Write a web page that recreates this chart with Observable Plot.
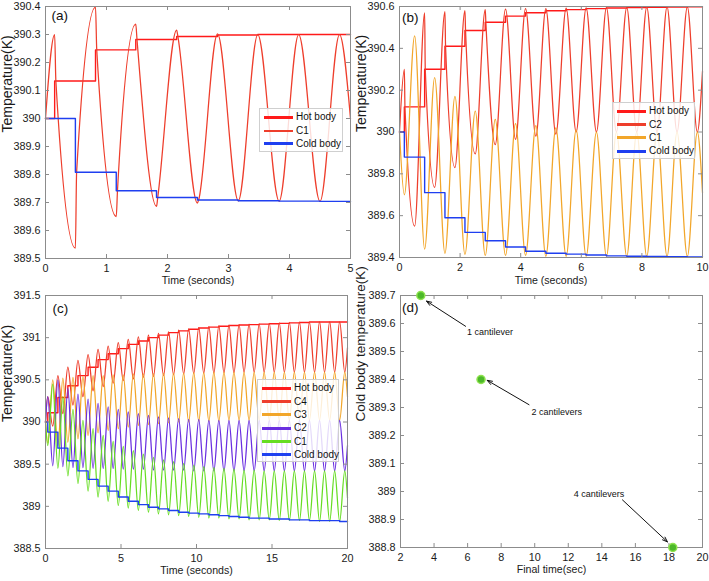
<!DOCTYPE html>
<html><head><meta charset="utf-8">
<script src="https://cdn.jsdelivr.net/npm/d3@7"></script>
<script src="https://cdn.jsdelivr.net/npm/@observablehq/plot@0.6"></script>
<style>
body{margin:0;background:#fff;}
#root{position:relative;width:709px;height:581px;overflow:hidden;font-family:'Liberation Sans',Arial,sans-serif;background:#fff;}
.panel{position:absolute;}
.panel svg{overflow:visible;}
.legend{position:absolute;border:1px solid #cfcfcf;background:rgba(255,255,255,0.82);box-sizing:border-box;}
.legend .sw{position:absolute;}
.legend .lb{position:absolute;font-size:10px;line-height:12px;color:#111;white-space:nowrap;}
</style></head><body><div id="root"></div>
<script>
const FONT = "'Liberation Sans', Arial, Helvetica, sans-serif";
const HOT = "#ff1a1a", COLD = "#1f3ff0", CRED = "#ee3e2c", CORANGE = "#f2a62a", CPURPLE = "#6a2fe0", CGREEN = "#66dd22";

// ---------- Panel (a) ----------
const aXTicks = [0, 1, 2, 3, 4, 5];
const aYTicks = [389.5, 389.6, 389.7, 389.8, 389.9, 390, 390.1, 390.2, 390.3, 390.4];
const aHotT = [0, 0.15, 0.82, 1.48, 2.15, 2.82, 3.48, 4.15, 4.82, 5];
const aHotV = [390, 390.134, 390.245, 390.282, 390.293, 390.298, 390.3, 390.3, 390.3, 390.3];
const aColdT = [0, 0.49, 1.16, 1.82, 2.49, 3.16, 3.83, 4.5, 5];
const aColdV = [390, 389.808, 389.742, 389.718, 389.709, 389.706, 389.705, 389.704, 389.704];
const aC1T = [0, 0.15, 0.17, 0.49, 0.51, 0.82, 0.84, 1.16, 1.18, 1.48, 1.5, 1.82, 1.84, 2.15, 2.17, 2.49, 2.51, 2.82, 3.16, 3.48, 3.83, 4.15, 4.5, 4.82, 5];
const aC1V = [390, 390.3, 390.134, 389.537, 389.808, 390.398, 390.245, 389.65, 389.742, 390.337, 390.282, 389.686, 389.718, 390.316, 390.293, 389.698, 389.709, 390.302, 389.706, 390.3, 389.705, 390.3, 389.704, 390.3, 390.0];

// ---------- Panel (b) ----------
const bXTicks = [0, 2, 4, 6, 8, 10];
const bYTicks = [389.4, 389.6, 389.8, 390, 390.2, 390.4, 390.6];
const bStepT = [0, 0.16, 0.83, 1.5, 2.16, 2.83, 3.5, 4.16, 4.83, 5.5, 6.16, 6.83, 7.5, 8.16, 8.83, 9.5, 10];
const bHotV = [390, 390.12, 390.30, 390.41, 390.485, 390.525, 390.554, 390.57, 390.58, 390.585, 390.59, 390.593, 390.595, 390.596, 390.597, 390.598, 390.598];
const bColdV = [390, 389.88, 389.71, 389.59, 389.52, 389.48, 389.45, 389.43, 389.42, 389.416, 389.412, 389.408, 389.406, 389.405, 389.404, 389.403, 389.403];
const bC2T = [0, 0.16, 0.18, 0.5, 0.83, 0.85, 1.16, 1.5, 1.52, 1.83, 2.16, 2.18, 2.5, 2.83, 2.85, 3.16, 3.5, 3.83, 4.16, 4.5, 4.83, 5.16, 5.5, 5.83, 6.16, 6.5, 6.83, 7.16, 7.5, 7.83, 8.16, 8.5, 8.83, 9.16, 9.5, 9.83, 10];
const bC2V = [390, 390.30, 390.12, 389.55, 390.57, 390.30, 389.735, 390.575, 390.41, 389.83, 390.58, 390.485, 389.895, 390.585, 390.525, 389.94, 390.588, 389.965, 390.59, 389.98, 390.59, 389.99, 390.592, 390.0, 390.594, 390.0, 390.595, 390.0, 390.596, 390.0, 390.597, 390.0, 390.598, 390.0, 390.598, 390.0, 390.29];
const bC1T = [0, 0.16, 0.5, 0.83, 1.16, 1.5, 1.83, 2.16, 2.5, 2.83, 3.16, 3.5, 3.83, 4.16, 4.5, 4.83, 5.16, 5.5, 5.83, 6.16, 6.5, 6.83, 7.16, 7.5, 7.83, 8.16, 8.5, 8.83, 9.16, 9.5, 9.83, 10];
const bC1V = [390, 389.70, 390.46, 389.44, 390.26, 389.42, 390.17, 389.415, 390.10, 389.41, 390.06, 389.41, 390.04, 389.41, 390.03, 389.405, 390.02, 389.405, 390.01, 389.405, 390.0, 389.405, 390.0, 389.405, 390.0, 389.405, 390.0, 389.405, 390.0, 389.405, 390.0, 389.71];

// ---------- Panel (c) ----------
const cXTicks = [0, 5, 10, 15, 20];
const cYTicks = [388.5, 389, 389.5, 390, 390.5, 391, 391.5];
const cExtT = [0.15, 0.48, 0.82, 1.15, 1.48, 1.82, 2.15, 2.48, 2.82, 3.15, 3.48, 3.82, 4.15, 4.48, 4.82, 5.15, 5.48, 5.82, 6.15, 6.48, 6.82, 7.15, 7.48, 7.82, 8.15, 8.48, 8.82, 9.15, 9.48, 9.82, 10.15, 10.48, 10.82, 11.15, 11.48, 11.82, 12.15, 12.48, 12.82, 13.15, 13.48, 13.82, 14.15, 14.48, 14.82, 15.15, 15.48, 15.82, 16.15, 16.48, 16.82, 17.15, 17.48, 17.82, 18.15, 18.48, 18.82, 19.15, 19.48, 19.82];
const cHotV = [390, 390.11, 390.29, 390.43, 390.55, 390.65, 390.74, 390.81, 390.87, 390.92, 390.96, 391.0, 391.03, 391.06, 391.08, 391.1, 391.115, 391.125, 391.135, 391.145, 391.15, 391.155, 391.16, 391.165, 391.17, 391.175, 391.18, 391.185, 391.185, 391.185, 391.185, 391.185];
const cColdV = [390, 389.88, 389.69, 389.54, 389.42, 389.32, 389.24, 389.18, 389.11, 389.06, 389.02, 388.99, 388.97, 388.95, 388.93, 388.92, 388.91, 388.9, 388.89, 388.88, 388.87, 388.86, 388.86, 388.85, 388.85, 388.84, 388.84, 388.83, 388.83, 388.83, 388.82, 388.82];
// values at the step times (even extrema) and at the half-period times (odd extrema)
const c4AtStep = [390.3, 390.55, 390.65, 390.73, 390.8, 390.86, 390.9, 390.94, 390.98, 391.01, 391.03, 391.05, 391.07, 391.09, 391.1, 391.12, 391.13, 391.14, 391.15, 391.155, 391.16, 391.165, 391.17, 391.175, 391.18, 391.185, 391.185, 391.19, 391.19, 391.19];
const c4AtMid = [389.95, 390.1, 390.2, 390.3, 390.37, 390.42, 390.46, 390.49, 390.51, 390.53, 390.54, 390.55, 390.56, 390.57, 390.575, 390.58, 390.58, 390.585, 390.585, 390.59, 390.59, 390.59, 390.59, 390.59, 390.59, 390.59, 390.59, 390.59, 390.59, 390.59];
const c3AtStep = [389.75, 389.72, 389.76, 389.8, 389.84, 389.87, 389.9, 389.92, 389.94, 389.96, 389.97, 389.98, 389.99, 390.0, 390.0, 390.01, 390.01, 390.01, 390.02, 390.02, 390.02, 390.02, 390.02, 390.02, 390.02, 390.02, 390.02, 390.02, 390.02, 390.02];
const c3AtMid = [390.5, 390.52, 390.53, 390.54, 390.55, 390.55, 390.56, 390.56, 390.57, 390.57, 390.575, 390.58, 390.58, 390.58, 390.585, 390.585, 390.59, 390.59, 390.59, 390.59, 390.59, 390.59, 390.59, 390.59, 390.59, 390.59, 390.59, 390.59, 390.59, 390.59];
const c2AtStep = [390.3, 390.5, 390.4, 390.33, 390.27, 390.22, 390.18, 390.15, 390.12, 390.1, 390.08, 390.06, 390.05, 390.04, 390.03, 390.03, 390.02, 390.02, 390.02, 390.02, 390.02, 390.02, 390.02, 390.02, 390.02, 390.02, 390.02, 390.02, 390.02, 390.02];
const c2AtMid = [389.48, 389.47, 389.46, 389.46, 389.45, 389.45, 389.45, 389.44, 389.44, 389.44, 389.43, 389.43, 389.43, 389.43, 389.42, 389.42, 389.42, 389.42, 389.42, 389.42, 389.42, 389.42, 389.42, 389.42, 389.42, 389.42, 389.42, 389.42, 389.42, 389.42];
const c1AtStep = [389.72, 389.45, 389.36, 389.27, 389.18, 389.11, 389.06, 389.01, 388.98, 388.95, 388.93, 388.91, 388.9, 388.89, 388.88, 388.87, 388.86, 388.86, 388.85, 388.85, 388.84, 388.84, 388.84, 388.83, 388.83, 388.83, 388.83, 388.82, 388.82, 388.82];
const c1AtMid = [390.45, 390.3, 390.15, 390.02, 389.92, 389.84, 389.77, 389.71, 389.66, 389.62, 389.58, 389.55, 389.53, 389.51, 389.49, 389.47, 389.46, 389.45, 389.44, 389.43, 389.43, 389.42, 389.42, 389.42, 389.42, 389.42, 389.42, 389.42, 389.42, 389.42];
const cStart = {C4: 390.0, C3: 390.0, C2: 390.0, C1: 390.0};
const cEnd = {C4: 390.88, C3: 390.3, C2: 389.72, C1: 389.1};

// ---------- Panel (d) ----------
const dXTicks = [2, 4, 6, 8, 10, 12, 14, 16, 18, 20];
const dYTicks = [388.8, 388.9, 389, 389.1, 389.2, 389.3, 389.4, 389.5, 389.6, 389.7];
const dFinalTime = [3.21, 6.8, 18.23];
const dColdTemp = [389.7, 389.4, 388.8];
const dLabels = ["1 cantilever", "2 cantilevers", "4 cantilevers"];
const dLabelX = [7.33, 11.31, 13.83];
const dLabelY = [389.57, 389.284, 388.99];
const dArrowX1 = [5.88, 9.66, 15.23], dArrowY1 = [389.59, 389.31, 388.97];
const dArrowX2 = [3.55, 7.17, 17.91], dArrowY2 = [389.68, 389.397, 388.82];

// ---------- helpers ----------
const pts = (T, V) => T.map((t, i) => ({t, v: V[i]}));
const fmt1 = d3.format(".1~f");
function oscSeries(start, atStep, atMid, end) {
  const out = [{t: 0, v: start}];
  atStep.forEach((v, i) => { out.push({t: cExtT[2 * i], v}); out.push({t: cExtT[2 * i + 1], v: atMid[i]}); });
  out.push({t: 20, v: end});
  return out;
}
const cStepT = [0, ...cExtT.filter((_, i) => i % 2 === 0), 20];

const root = document.getElementById("root");

function panel(o) {
  const fw = o.width - o.ml - o.mr, fh = o.height - o.mt - o.mb;
  const axisC = "#8c8c8c", tl = 4;
  const svg = Plot.plot({
    width: o.width, height: o.height,
    marginTop: o.mt, marginRight: o.mr, marginBottom: o.mb, marginLeft: o.ml,
    x: {domain: o.xDomain, ticks: o.xTicks, tickFormat: o.xFmt, tickSize: 0, tickPadding: 5.5, label: null},
    y: {domain: o.yDomain, ticks: o.yTicks, tickFormat: o.yFmt, tickSize: 0, tickPadding: 5, label: null},
    style: {fontFamily: FONT, fontSize: "10.8px", color: "#1a1a1a", background: "transparent", overflow: "visible"},
    marks: [
      ...o.marks,
      Plot.frame({stroke: axisC}),
      Plot.ruleX(o.xTicks, {stroke: axisC, insetTop: fh - tl}),
      Plot.ruleX(o.xTicks, {stroke: axisC, insetBottom: fh - tl}),
      Plot.ruleY(o.yTicks, {stroke: axisC, insetRight: fw - tl}),
      Plot.ruleY(o.yTicks, {stroke: axisC, insetLeft: fw - tl}),
      ...(o.over || []),
      Plot.text([o.xLabel], {text: d => d, frameAnchor: "bottom", dy: o.xLabelDy, fontSize: 10.6, fill: "#1a1a1a"}),
      Plot.text([o.yLabel], {text: d => d, frameAnchor: "left", dx: o.yLabelDx, rotate: -90, fontSize: o.yLabelSize, fill: "#1a1a1a"}),
      Plot.text([o.tag], {text: d => d, frameAnchor: "top-left", dx: o.tagDx, dy: o.tagDy, textAnchor: "start", lineAnchor: "top", fontSize: 13.5, fill: "#111"})
    ]
  });
  const div = document.createElement("div");
  div.className = "panel";
  div.style.left = o.left + "px";
  div.style.top = o.top + "px";
  div.appendChild(svg);
  root.appendChild(div);
}

function legend(left, top, width, height, items) {
  const box = document.createElement("div");
  box.className = "legend";
  Object.assign(box.style, {left: left + "px", top: top + "px", width: width + "px", height: height + "px"});
  items.forEach((it, i) => {
    const cy = 9.3 + i * 13.3;
    const sw = document.createElement("div");
    sw.className = "sw";
    Object.assign(sw.style, {left: "4px", width: "29px", top: (cy - it.w / 2 - 1) + "px", height: it.w + "px", background: it.color});
    const lb = document.createElement("div");
    lb.className = "lb";
    Object.assign(lb.style, {left: "36px", top: (cy - 7) + "px"});
    lb.textContent = it.label;
    box.appendChild(sw); box.appendChild(lb);
  });
  root.appendChild(box);
}

const lineOpt = (stroke, w, curve) => ({x: "t", y: "v", stroke, strokeWidth: w, curve});

// (a)
panel({
  left: 0, top: 0, width: 355, height: 290, ml: 45, mr: 5, mt: 6, mb: 32,
  xDomain: [0, 5], yDomain: [389.5, 390.4], xTicks: aXTicks, yTicks: aYTicks, xFmt: d => d, yFmt: fmt1,
  xLabel: "Time (seconds)", yLabel: "Temperature(K)", xLabelDy: 25.5, yLabelDx: -38, yLabelSize: 14, tag: "(a)", tagDx: 6, tagDy: 4,
  marks: [
    Plot.line(pts(aHotT, aHotV), lineOpt(HOT, 1.4, "step-after")),
    Plot.line(pts(aC1T, aC1V), lineOpt(CRED, 1.25, "monotone-x")),
    Plot.line(pts(aColdT, aColdV), lineOpt(COLD, 1.4, "step-after"))
  ]
});
legend(259, 108, 84, 44, [
  {label: "Hot body", color: HOT, w: 3},
  {label: "C1", color: CRED, w: 2},
  {label: "Cold body", color: COLD, w: 3}
]);

// (b)
panel({
  left: 355, top: 0, width: 354, height: 290, ml: 44, mr: 7, mt: 6, mb: 33,
  xDomain: [0, 10], yDomain: [389.4, 390.6], xTicks: bXTicks, yTicks: bYTicks, xFmt: d => d, yFmt: fmt1,
  xLabel: "Time (seconds)", yLabel: "Temperature(K)", xLabelDy: 26.5, yLabelDx: -38, yLabelSize: 14, tag: "(b)", tagDx: 2.5, tagDy: 5.5,
  marks: [
    Plot.line(pts(bStepT, bHotV), lineOpt(HOT, 1.4, "step-after")),
    Plot.line(pts(bC2T, bC2V), lineOpt(CRED, 1.25, "monotone-x")),
    Plot.line(pts(bC1T, bC1V), lineOpt(CORANGE, 1.25, "monotone-x")),
    Plot.line(pts(bStepT, bColdV), lineOpt(COLD, 1.4, "step-after"))
  ]
});
legend(612, 102, 83, 57, [
  {label: "Hot body", color: HOT, w: 3},
  {label: "C2", color: CRED, w: 3},
  {label: "C1", color: CORANGE, w: 3},
  {label: "Cold body", color: COLD, w: 3}
]);

// (c)
panel({
  left: 0, top: 285, width: 355, height: 296, ml: 45, mr: 8, mt: 10, mb: 33,
  xDomain: [0, 20], yDomain: [388.5, 391.5], xTicks: cXTicks, yTicks: cYTicks, xFmt: d => d, yFmt: fmt1,
  xLabel: "Time (seconds)", yLabel: "Temperature(K)", xLabelDy: 25, yLabelDx: -38, yLabelSize: 14, tag: "(c)", tagDx: 7, tagDy: 8,
  marks: [
    Plot.line(pts(cStepT, cHotV), lineOpt(HOT, 1.4, "step-after")),
    Plot.line(oscSeries(cStart.C4, c4AtStep, c4AtMid, cEnd.C4), lineOpt(CRED, 1.25, "monotone-x")),
    Plot.line(oscSeries(cStart.C3, c3AtStep, c3AtMid, cEnd.C3), lineOpt(CORANGE, 1.25, "monotone-x")),
    Plot.line(oscSeries(cStart.C2, c2AtStep, c2AtMid, cEnd.C2), lineOpt(CPURPLE, 1.25, "monotone-x")),
    Plot.line(oscSeries(cStart.C1, c1AtStep, c1AtMid, cEnd.C1), lineOpt(CGREEN, 1.25, "monotone-x")),
    Plot.line(pts(cStepT, cColdV), lineOpt(COLD, 1.4, "step-after"))
  ]
});
legend(257, 379, 82, 83, [
  {label: "Hot body", color: HOT, w: 3},
  {label: "C4", color: CRED, w: 3},
  {label: "C3", color: CORANGE, w: 3},
  {label: "C2", color: CPURPLE, w: 3},
  {label: "C1", color: CGREEN, w: 3},
  {label: "Cold body", color: COLD, w: 3}
]);

// (d)
const dPoints = dFinalTime.map((x, i) => ({x, y: dColdTemp[i]}));
const dArrows = dArrowX1.map((x1, i) => ({x1, y1: dArrowY1[i], x2: dArrowX2[i], y2: dArrowY2[i]}));
const dText = dLabels.map((label, i) => ({label, x: dLabelX[i], y: dLabelY[i]}));
panel({
  left: 355, top: 285, width: 354, height: 296, ml: 45, mr: 7, mt: 10, mb: 34,
  xDomain: [2, 20], yDomain: [388.8, 389.7], xTicks: dXTicks, yTicks: dYTicks, xFmt: d => d, yFmt: fmt1,
  xLabel: "Final time(sec)", yLabel: "Cold body temperature(K)", xLabelDy: 25, yLabelDx: -40, yLabelSize: 13.5, tag: "(d)", tagDx: 1.5, tagDy: 6.5,
  marks: [
    Plot.arrow(dArrows, {x1: "x1", y1: "y1", x2: "x2", y2: "y2", stroke: "#111", strokeWidth: 1, headLength: 8, headAngle: 40}),
    Plot.text(dText, {x: "x", y: "y", text: "label", fontSize: 9, fill: "#111"})
  ],
  over: [
    Plot.dot(dPoints, {x: "x", y: "y", r: 4, fill: "#4cb82a", stroke: "#8ee24e", strokeWidth: 1.5})
  ]
});
</script></body></html>
